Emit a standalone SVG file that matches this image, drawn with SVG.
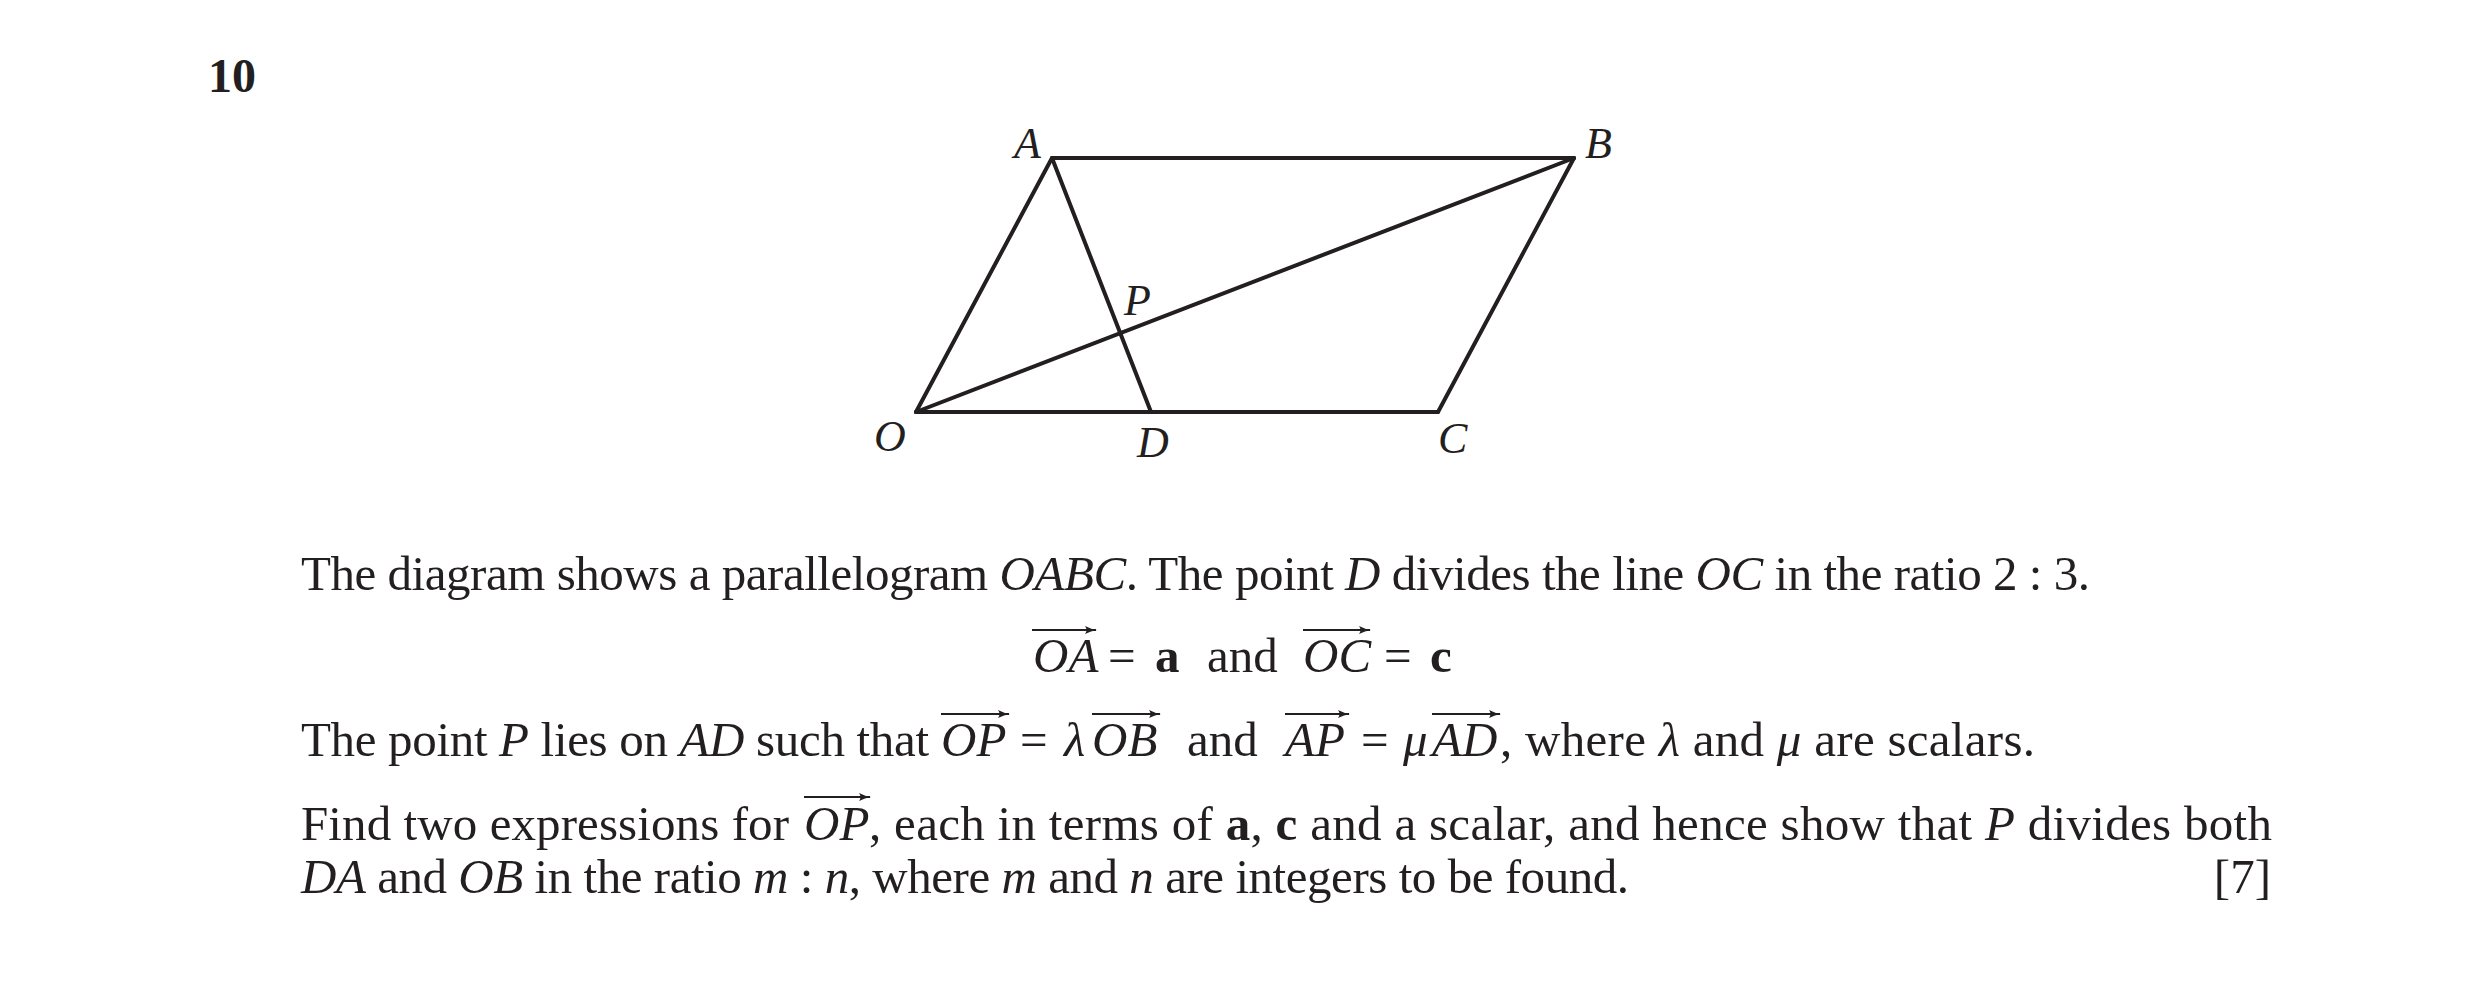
<svg xmlns="http://www.w3.org/2000/svg" width="2481" height="984" viewBox="0 0 2481 984">
<style>
  .t{font-family:"Liberation Serif","Times New Roman",serif;font-size:49px;fill:#231f20}
  .lbl{font-family:"Liberation Serif","Times New Roman",serif;font-size:44px;font-style:italic;fill:#231f20}
  .i{font-style:italic}
  .b{font-weight:bold}
  .edge{stroke:#231f20;stroke-width:4;fill:none;stroke-linejoin:miter;stroke-linecap:round}
  .vec{stroke:#231f20;stroke-width:1.8;fill:none;marker-end:url(#ah)}
</style>
<defs>
  <marker id="ah" viewBox="0 0 12 10" refX="11" refY="5" markerWidth="12" markerHeight="10" markerUnits="userSpaceOnUse" orient="auto">
    <path d="M0,1 Q6,4.2 12,5 Q6,5.8 0,9 Q3,5 0,1 Z" fill="#231f20"/>
  </marker>
</defs>
<rect width="2481" height="984" fill="#ffffff"/>

<text class="t b" x="208" y="92" style="font-size:48px">10</text>

<g id="connectors">
  <line class="edge" x1="916" y1="412" x2="1052" y2="158"/>
  <line class="edge" x1="1052" y1="158" x2="1574" y2="158"/>
  <line class="edge" x1="1574" y1="158" x2="1438" y2="412"/>
  <line class="edge" x1="916" y1="412" x2="1438" y2="412"/>
  <line class="edge" x1="916" y1="412" x2="1574" y2="158"/>
  <line class="edge" x1="1052" y1="158" x2="1151" y2="412"/>
</g>

<g id="node-O"><text class="lbl" x="874" y="451">O</text></g>
<g id="node-A"><text class="lbl" x="1014" y="158">A</text></g>
<g id="node-B"><text class="lbl" x="1585" y="158">B</text></g>
<g id="node-C"><text class="lbl" x="1438" y="453">C</text></g>
<g id="node-D"><text class="lbl" x="1137" y="457">D</text></g>
<g id="node-P"><text class="lbl" x="1124" y="315">P</text></g>

<g id="text">
  <text class="t" x="301" y="590" textLength="1789" lengthAdjust="spacing">The diagram shows a parallelogram <tspan class="i">OABC</tspan>. The point <tspan class="i">D</tspan> divides the line <tspan class="i">OC</tspan> in the ratio 2 : 3.</text>

  <text class="t i" x="1033" y="672">OA</text>
  <text class="t" x="1108" y="672">=</text>
  <text class="t b" x="1155" y="672">a</text>
  <text class="t" x="1207" y="672">and</text>
  <text class="t i" x="1303" y="672">OC</text>
  <text class="t" x="1384" y="672">=</text>
  <text class="t b" x="1430" y="672">c</text>

  <text class="t" x="301" y="756" textLength="628" lengthAdjust="spacing">The point <tspan class="i">P</tspan> lies on <tspan class="i">AD</tspan> such that</text>
  <text class="t i" x="941" y="756">OP</text>
  <text class="t" x="1020" y="756">=</text>
  <text class="t i" x="1064" y="756">λ</text>
  <text class="t i" x="1092" y="756">OB</text>
  <text class="t" x="1187" y="756">and</text>
  <text class="t i" x="1285" y="756">AP</text>
  <text class="t" x="1361" y="756">=</text>
  <text class="t i" x="1403" y="756">μ</text>
  <text class="t i" x="1432" y="756">AD</text>
  <text class="t" x="1500" y="756" textLength="535" lengthAdjust="spacing">, where <tspan class="i">λ</tspan> and <tspan class="i">μ</tspan> are scalars.</text>

  <text class="t" x="301" y="840" textLength="488" lengthAdjust="spacing">Find two expressions for</text>
  <text class="t i" x="804" y="840">OP</text>
  <text class="t" x="869" y="840" textLength="1403" lengthAdjust="spacing">, each in terms of <tspan class="b">a</tspan>, <tspan class="b">c</tspan> and a scalar, and hence show that <tspan class="i">P</tspan> divides both</text>

  <text class="t" x="301" y="893" textLength="1328" lengthAdjust="spacing"><tspan class="i">DA</tspan> and <tspan class="i">OB</tspan> in the ratio <tspan class="i">m</tspan> : <tspan class="i">n</tspan>, where <tspan class="i">m</tspan> and <tspan class="i">n</tspan> are integers to be found.</text>
  <text class="t" x="2271" y="893" text-anchor="end">[7]</text>
</g>

<g id="vector-arrows">
  <line class="vec" x1="1032" y1="630" x2="1096" y2="630"/>
  <line class="vec" x1="1303" y1="630" x2="1370" y2="630"/>
  <line class="vec" x1="941" y1="714" x2="1009" y2="714"/>
  <line class="vec" x1="1092" y1="714" x2="1160" y2="714"/>
  <line class="vec" x1="1285" y1="714" x2="1349" y2="714"/>
  <line class="vec" x1="1432" y1="714" x2="1500" y2="714"/>
  <line class="vec" x1="804" y1="797" x2="870" y2="797"/>
</g>
</svg>
